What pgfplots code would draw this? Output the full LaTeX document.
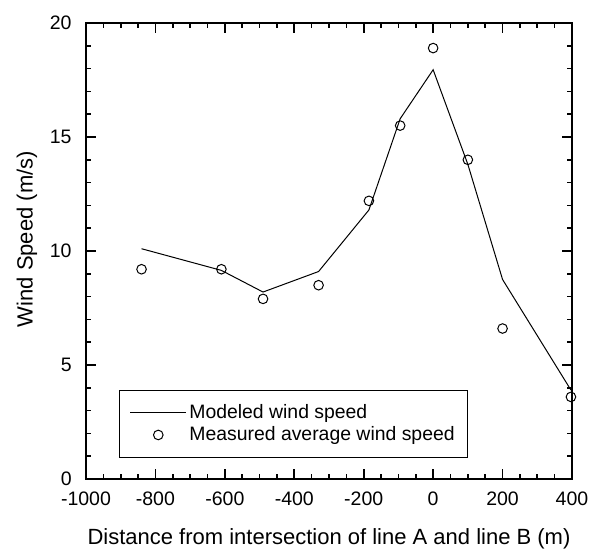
\documentclass[border=0pt]{standalone}
\usepackage{fontspec}
\setmainfont{Liberation Sans}
\usepackage{pgfplots}
\pgfplotsset{compat=1.18}

\begin{document}
\begin{tikzpicture}
\useasboundingbox (-43pt,-34.5pt) rectangle (255pt,239.5pt);
\begin{axis}[
 scale only axis,width=243pt,height=228pt,
 xmin=-1000,xmax=400,ymin=0,ymax=20,
 xtick={-1000,-800,-600,-400,-200,0,200,400},
 xticklabels={-1000,-800,-600,-400,-200,0,200,400},
 ytick={0,5,10,15,20},
 yticklabels={0,5,10,15,20},
 minor x tick num=3,minor y tick num=4,
 tick align=inside,
 major tick length=5pt,minor tick length=2.7pt,
 every tick/.style={black,line width=0.8pt},
 axis line style={line width=0.85pt},
 ticklabel style={font=\fontsize{9.75}{11}\selectfont},
 xticklabel style={anchor=north,inner sep=0pt,yshift=-6.3pt},
 yticklabel style={anchor=east,inner sep=0pt,xshift=-7pt},
 label style={font=\fontsize{11}{13}\selectfont},
 xlabel={Distance from intersection of line A and line B (m)},
 ylabel={Wind Speed (m/s)},
 xlabel style={at={(axis description cs:0.5,-0.1436)},anchor=base},
 ylabel style={at={(axis description cs:-0.1099,0.526)},anchor=base,rotate=0},
 legend style={at={(axis description cs:0.0685,0.195)},anchor=north west,
   draw=black,line width=0.5pt,fill=white,
   inner xsep=5pt,inner ysep=5.5pt,
   nodes={inner sep=1.3pt,text depth=0.15em},
   cells={anchor=west},
   font=\fontsize{9.7}{11}\selectfont},
]
\addplot[black,line width=0.5pt,
 legend image code/.code={\draw[black,line width=0.5pt] (0pt,0pt) -- (28pt,0pt);}]
 coordinates {(-840,10.1) (-610,9.15) (-490,8.2) (-330,9.1) (-185,11.8)
  (-95,15.8) (0,17.95) (100,13.8) (200,8.75) (397,3.9)};
\addlegendentry{Modeled wind speed}
\addplot[only marks,mark=o,mark size=2.4pt,black,line width=0.5pt,
 legend image code/.code={\path[draw=none] (0pt,0pt) -- (28pt,0pt); \draw[black,line width=0.5pt] (14pt,0pt) circle (2.4pt);}]
 coordinates {(-840,9.2) (-610,9.2) (-490,7.9) (-330,8.5) (-185,12.2)
  (-95,15.5) (0,18.9) (100,14.0) (200,6.6) (397,3.6)};
\addlegendentry{Measured average wind speed}
\end{axis}
\end{tikzpicture}
\end{document}
